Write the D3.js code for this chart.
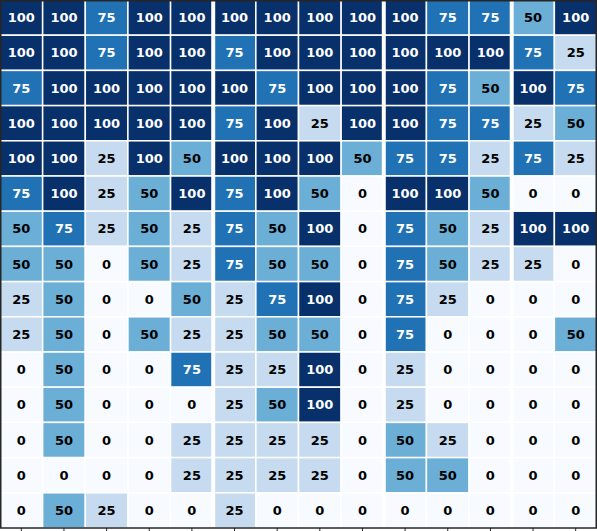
<!DOCTYPE html>
<html>
<head>
<meta charset="utf-8">
<script src="https://cdn.jsdelivr.net/npm/d3@7"></script>
<style>
html,body{margin:0;padding:0;background:#fff;overflow:hidden;}
svg{display:block;}
</style>
</head>
<body>
<svg id="chart" width="597" height="531"></svg>
<script>
// ---- data ----
const columns = ["c1","c2","c3","c4","c5","c6","c7","c8","c9","c10","c11","c12","c13","c14"];
const rows = ["r1","r2","r3","r4","r5","r6","r7","r8","r9","r10","r11","r12","r13","r14","r15"];
const values = [
  [100,100,75,100,100, 100,100,100,100, 100,75,75, 50,100],
  [100,100,75,100,100, 75,100,100,100, 100,100,100, 75,25],
  [75,100,100,100,100, 100,75,100,100, 100,75,50, 100,75],
  [100,100,100,100,100, 75,100,25,100, 100,75,75, 25,50],
  [100,100,25,100,50, 100,100,100,50, 75,75,25, 75,25],
  [75,100,25,50,100, 75,100,50,0, 100,100,50, 0,0],
  [50,75,25,50,25, 75,50,100,0, 75,50,25, 100,100],
  [50,50,0,50,25, 75,50,50,0, 75,50,25, 25,0],
  [25,50,0,0,50, 25,75,100,0, 75,25,0, 0,0],
  [25,50,0,50,25, 25,50,50,0, 75,0,0, 0,50],
  [0,50,0,0,75, 25,25,100,0, 25,0,0, 0,0],
  [0,50,0,0,0, 25,50,100,0, 25,0,0, 0,0],
  [0,50,0,0,25, 25,25,25,0, 50,25,0, 0,0],
  [0,0,0,0,25, 25,25,25,0, 50,50,0, 0,0],
  [0,50,25,0,0, 25,0,0,0, 0,0,0, 0,0]
];
const groupBreaks = [5, 9, 12]; // column indices where a group separator is drawn
const colorLevels = [0, 25, 50, 75, 100];
const colorRange = ["#f7fbff", "#c6dbef", "#6baed6", "#2171b5", "#08306b"];

// ---- layout ----
const W = 597, plotH = 528;
const svg = d3.select("#chart");

const x = d3.scaleBand().domain(columns).range([0, W]).padding(0);
const y = d3.scaleBand().domain(rows).range([0, plotH]).padding(0);
const color = d3.scaleOrdinal().domain(colorLevels).range(colorRange);

const cells = [];
values.forEach((r, i) => r.forEach((v, j) => cells.push({row: rows[i], col: columns[j], v})));

const g = svg.append("g");

g.selectAll("rect.cell").data(cells).join("rect")
  .attr("class", "cell")
  .attr("x", d => x(d.col))
  .attr("y", d => y(d.row))
  .attr("width", x.bandwidth())
  .attr("height", y.bandwidth())
  .attr("fill", d => color(d.v))
  .attr("stroke", "#ffffff")
  .attr("stroke-width", 1.5);

g.selectAll("text.lbl").data(cells).join("text")
  .attr("class", "lbl")
  .attr("x", d => x(d.col) + x.bandwidth() / 2)
  .attr("y", d => y(d.row) + y.bandwidth() / 2)
  .attr("text-anchor", "middle")
  .attr("dominant-baseline", "central")
  .attr("font-family", "DejaVu Sans, sans-serif")
  .attr("font-weight", "bold")
  .attr("font-size", 13)
  .attr("fill", d => d.v >= 75 ? "#ffffff" : "#000000")
  .text(d => d.v);

// group separators
g.selectAll("line.sep").data(groupBreaks).join("line")
  .attr("class", "sep")
  .attr("x1", d => x(columns[d]))
  .attr("x2", d => x(columns[d]))
  .attr("y1", 0)
  .attr("y2", plotH)
  .attr("stroke", "#ffffff")
  .attr("stroke-width", 4);

// frame
svg.append("rect")
  .attr("x", 0.75).attr("y", 0.75)
  .attr("width", W - 1.5).attr("height", plotH - 0.75)
  .attr("fill", "none")
  .attr("stroke", "#262626")
  .attr("stroke-width", 1.5);

// bottom ticks (labels fall outside the view)
const axis = svg.append("g")
  .attr("transform", `translate(0,${plotH})`)
  .call(d3.axisBottom(x).tickSize(4).tickFormat(""));
axis.select(".domain").remove();
axis.selectAll("line").attr("stroke", "#262626").attr("stroke-width", 1);
</script>
</body>
</html>
